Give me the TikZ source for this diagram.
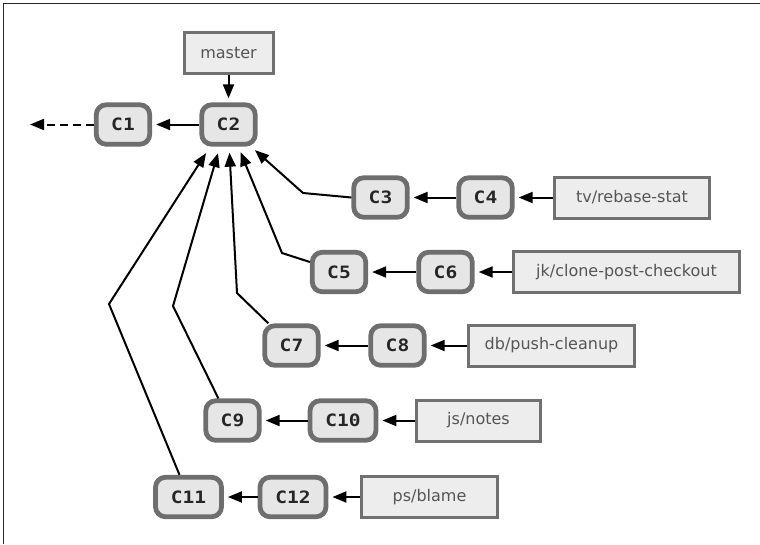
\documentclass[tikz,border=0pt]{standalone}
\usepackage{fontspec}
\usetikzlibrary{arrows.meta,calc}
\newfontfamily\branchfont{DejaVu Sans}
\newfontfamily\commitfont{DejaVu Sans Mono}[FakeStretch=1.15]
\definecolor{cfill}{HTML}{E6E6E6}
\definecolor{cdraw}{HTML}{6E6E6E}
\definecolor{bfill}{HTML}{EDEDED}
\definecolor{bdraw}{HTML}{707070}
\definecolor{btext}{HTML}{555555}
\begin{document}
\begin{tikzpicture}[x=1pt,y=-1pt,
  commit/.style={draw=cdraw, fill=cfill, line width=4.8pt, rounded corners=10pt,
    minimum width=53.5pt, minimum height=39.5pt, inner sep=0pt,
    font=\commitfont\bfseries\fontsize{17}{20}\selectfont, text=black!85},
  wide/.style={minimum width=66pt},
  branch/.style={draw=bdraw, fill=bfill, line width=3pt, minimum height=41pt,
    inner sep=0pt, text=btext, font=\branchfont\fontsize{16}{19}\selectfont},
  arr/.style={line width=2pt, -{Triangle[length=14pt,width=11pt]}},
  tocommit/.style={arr, shorten >=4pt},
]
\useasboundingbox (0,0) rectangle (760,544);
\draw[line width=1.8pt, black!85] (3.5,544) -- (3.5,3.5) -- (760,3.5);

\node[branch, minimum width=89pt] (master) at (228.5,52.5) {master};
\node[commit] (c1) at (123,124.5) {C1};
\node[commit] (c2) at (228.5,124.5) {C2};
\node[commit] (c3) at (380.5,197.5) {C3};
\node[commit] (c4) at (485.5,197.5) {C4};
\node[branch, minimum width=155pt] (tv) at (632,197.5) {tv/rebase-stat};
\node[commit] (c5) at (339,272) {C5};
\node[commit] (c6) at (445.5,272) {C6};
\node[branch, minimum width=226pt] (jk) at (626.5,272) {jk/clone-post-checkout};
\node[commit] (c7) at (291.5,345.5) {C7};
\node[commit] (c8) at (397.5,345.5) {C8};
\node[branch, minimum width=166pt] (db) at (551.5,345.5) {db/push-cleanup};
\node[commit] (c9) at (232.5,420.5) {C9};
\node[commit, wide] (c10) at (343,420.5) {C10};
\node[branch, minimum width=124pt] (js) at (478.5,420.5) {js/notes};
\node[commit, wide] (c11) at (188.5,497) {C11};
\node[commit, wide] (c12) at (293,497) {C12};
\node[branch, minimum width=136pt] (ps) at (429.5,497) {ps/blame};

\coordinate (c0) at (30,124.5);
\draw[arr, dash pattern=on 8pt off 5pt] (c1.west) -- (c0);
\draw[tocommit] (master.south) -- (c2.north);
\draw[tocommit] (c2) -- (c1);

\draw[tocommit] (c4) -- (c3);
\draw[tocommit] (tv) -- (c4);
\draw[tocommit] (c6) -- (c5);
\draw[tocommit] (jk) -- (c6);
\draw[tocommit] (c8) -- (c7);
\draw[tocommit] (db) -- (c8);
\draw[tocommit] (c10) -- (c9);
\draw[tocommit] (js) -- (c10);
\draw[tocommit] (c12) -- (c11);
\draw[tocommit] (ps) -- (c12);

\coordinate (b3) at (303,193);
\coordinate (b5) at (282,253);
\coordinate (b7) at (237,293);
\coordinate (b9) at (173,306);
\coordinate (b11) at (109,304);

\draw[arr] (c3.west) -- (b3) -- ($(c2.south)+(26.5,3.5)$);
\draw[arr] ($(c5.west)+(0,-10)$) -- (b5) -- ($(c2.south)+(12,5.5)$);
\draw[arr] ($(c7.north west)+(6,0)$) -- (b7) -- ($(c2.south)+(1,6)$);
\draw[arr] ($(c9.north west)+(15,0)$) -- (b9) -- ($(c2.south)+(-10.5,6.5)$);
\draw[arr] ($(c11.north)+(-9,0)$) -- (b11) -- ($(c2.south)+(-22.5,6.5)$);
\end{tikzpicture}
\end{document}
